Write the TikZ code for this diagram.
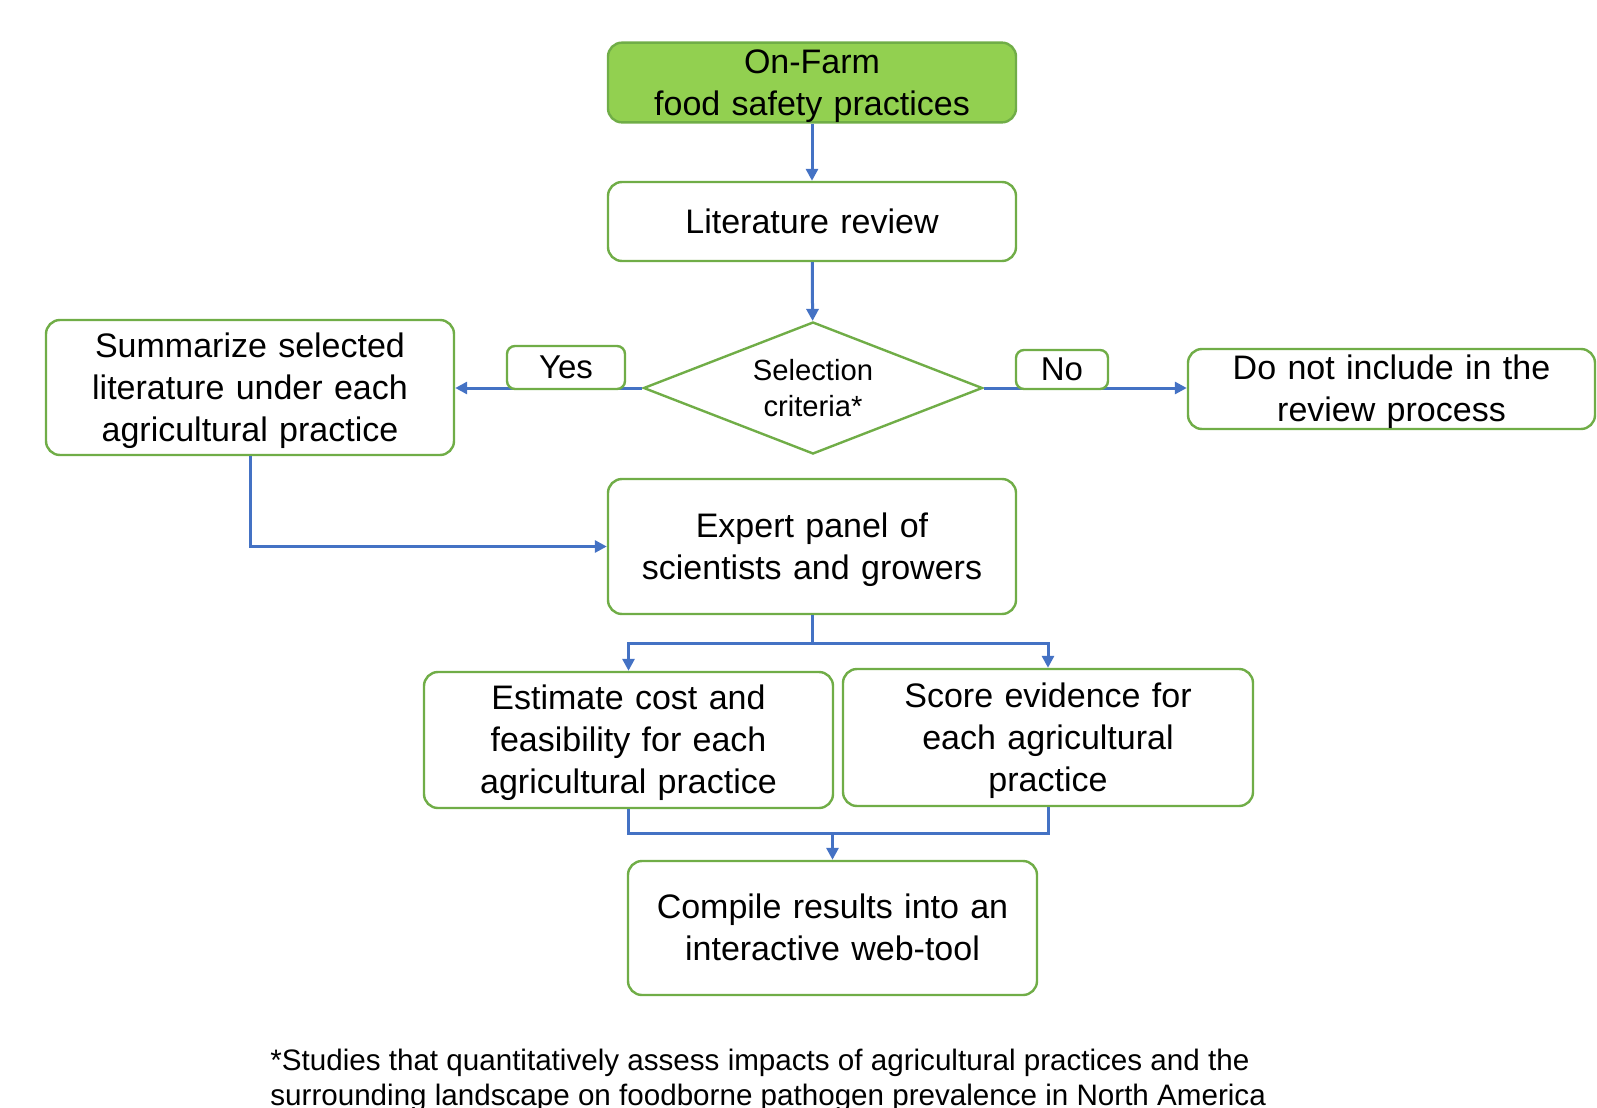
\documentclass[tikz,border=0pt]{standalone}
\usepackage{fontspec}
\setmainfont{Liberation Sans}
\usetikzlibrary{shapes.geometric, arrows.meta}
\definecolor{leaf}{HTML}{70AD47}
\definecolor{farmgreen}{HTML}{92D050}
\definecolor{flowblue}{HTML}{4472C4}

\begin{document}
\begin{tikzpicture}[x=0.5pt, y=-0.5pt,
  box/.style = {draw=leaf, line width=1.2pt, rounded corners=7pt, fill=white, text width=196pt, align=center, inner sep=0pt, font=\fontsize{17}{21}\selectfont,
    execute at begin node={\rule{0pt}{0.9em}}, execute at end node={\rule[-0.21em]{0pt}{0pt}}},
  choice/.style = {draw=leaf, line width=1.2pt, diamond, aspect=2.5, inner sep=0pt, align=center, minimum width=169.5pt, minimum height=66pt, font=\fontsize{14.6}{17.8}\selectfont},
  tag/.style = {draw=leaf, line width=1.2pt, rounded corners=4pt, fill=white, inner sep=0pt, font=\fontsize{16.5}{20}\selectfont},
  link/.style = {draw=flowblue, line width=1.5pt, -{Triangle[length=6pt, width=6pt]}},
  wire/.style = {draw=flowblue, line width=1.5pt}
]
\useasboundingbox (0,0) rectangle (1597,1108);
\node[box, fill=farmgreen, minimum width=204pt, minimum height=39.5pt] (top) at (812,82.5) {On-Farm\\food safety practices};
\node[box, minimum width=204pt, minimum height=39.5pt] (lit) at (812,221.5) {Literature review};
\node[choice] (sel) at (813,388) {Selection\\criteria*};
\node[box, minimum width=204pt, minimum height=67.5pt] (summ) at (250,387.5) {Summarize selected\\literature under each\\agricultural practice};
\node[box, minimum width=203.5pt, minimum height=40pt] (excl) at (1391.5,389) {Do not include in the\\review process};
\node[box, minimum width=204pt, minimum height=67.5pt] (panel) at (812,546.5) {Expert panel of\\scientists and growers};
\node[box, minimum width=204.5pt, minimum height=68pt] (cost) at (628.5,740) {Estimate cost and\\feasibility for each\\agricultural practice};
\node[box, minimum width=205pt, minimum height=68.5pt] (score) at (1048,737.5) {Score evidence for\\each agricultural\\practice};
\node[box, minimum width=204.5pt, minimum height=67pt] (web) at (832.5,928) {Compile results into an\\interactive web-tool};
\node[anchor=north west, inner sep=0pt, align=left, font=\fontsize{14.8}{17.3}\selectfont] (note) at (270,1049) {*Studies that quantitatively assess impacts of agricultural practices and the\\surrounding landscape on foodborne pathogen prevalence in North America};

\draw[link] (top) -- (lit);
\draw[link] (lit) -- (sel);
\draw[link] (sel.west) -- (sel.west -| summ.east);
\draw[link] (sel.east) -- (sel.east -| excl.west);
\node[tag, minimum width=59pt, minimum height=21.5pt] (yes) at (566,367.5) {Yes};
\node[tag, minimum width=46pt, minimum height=19.5pt] (no) at (1062,369.5) {No};
\draw[link] (summ.south) |- (panel.west);
% split to the two scoring steps
\coordinate (split) at (812,643);
\draw[wire] (panel.south) -- (split);
\draw[link] (split) -| (cost.north);
\draw[link] (split) -| (score.north);
% merge into the web-tool
\coordinate (join) at (832.5,833);
\draw[wire] (cost.south) |- (join);
\draw[wire] (score.south) |- (join);
\draw[link] (join) -- (web.north);
\end{tikzpicture}
\end{document}
